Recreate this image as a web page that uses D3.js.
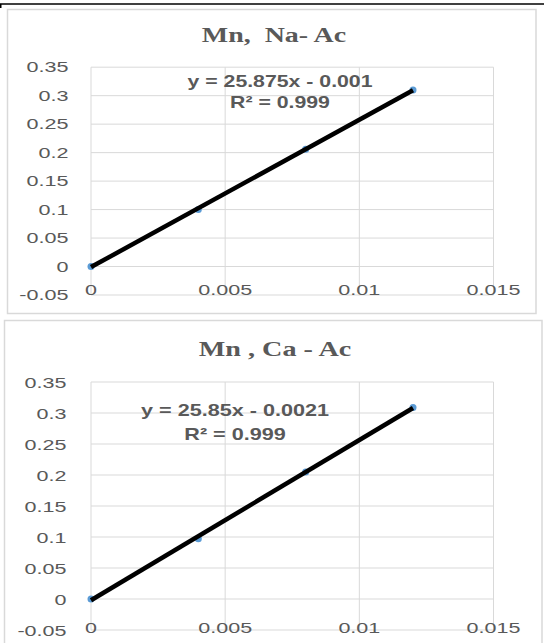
<html>
<head>
<meta charset="utf-8">
<script src="https://d3js.org/d3.v7.min.js"></script>
<style>
  body { margin: 0; background: #fff; }
  text { fill: #595959; }
</style>
</head>
<body>
<svg id="chart" width="544" height="643"></svg>
<script>
// data
var xTicks = [0, 0.005, 0.01, 0.015];
var xLabels = ["0", "0.005", "0.01", "0.015"];
var yTicks = [-0.05, 0, 0.05, 0.1, 0.15, 0.2, 0.25, 0.3, 0.35];
var yLabels = ["-0.05", "0", "0.05", "0.1", "0.15", "0.2", "0.25", "0.3", "0.35"];
var titles = ["Mn,  Na- Ac", "Mn , Ca - Ac"];
var conc = [0, 0.004, 0.008, 0.012];
var absNa = [0, 0.1, 0.206, 0.31];
var absCa = [0, 0.097, 0.205, 0.309];
var slopes = [25.875, 25.85];
var intercepts = [-0.001, -0.0021];
var eqTexts = ["y = 25.875x - 0.001", "y = 25.85x - 0.0021"];
var r2Texts = ["R\u00b2 = 0.999", "R\u00b2 = 0.999"];

// layout of the two stacked excel charts (the picture is stretched sideways)
var layout = [
  { box: [7.5, 9.5, 536, 313.5], x0: 91, x1: 493.5, yTop: 67.2, yBot: 295,
    titleX: 274, titleY: 41.5, titleSize: 21.5, titleSx: 1.3,
    tickSize: 14.5, tickSx: 1.49, yLabRight: 68.5, xLabY: 289.5,
    eqX: 280, eqY: 86.5, eqGap: 21, eqSize: 16, eqSx: 1.33 },
  { box: [4.5, 320.5, 542, 680], x0: 91, x1: 493.5, yTop: 382, yBot: 630,
    titleX: 275, titleY: 355.5, titleSize: 21.5, titleSx: 1.31,
    tickSize: 15.5, tickSx: 1.39, yLabRight: 66.5, xLabY: 627.5,
    eqX: 235, eqY: 415.5, eqGap: 24, eqSize: 17, eqSx: 1.27 }
];
var series = [absNa, absCa];

var svg = d3.select("#chart");

// strip of the page above the charts
svg.append("line").attr("x1", 0).attr("x2", 544).attr("y1", 4).attr("y2", 4)
  .attr("stroke", "#000").attr("stroke-width", 1.5);
svg.append("line").attr("x1", 0.75).attr("x2", 0.75).attr("y1", 4).attr("y2", 8)
  .attr("stroke", "#000").attr("stroke-width", 1.5);

function stretchText(g, x, y, sx, txt) {
  return g.append("text")
    .attr("transform", "translate(" + x + "," + y + ") scale(" + sx + ",1)")
    .text(txt);
}

layout.forEach(function(L, i) {
  var g = svg.append("g");
  var x = d3.scaleLinear().domain([0, 0.015]).range([L.x0, L.x1]);
  var y = d3.scaleLinear().domain([-0.05, 0.35]).range([L.yBot, L.yTop]);

  g.append("rect")
    .attr("x", L.box[0]).attr("y", L.box[1])
    .attr("width", L.box[2] - L.box[0]).attr("height", L.box[3] - L.box[1])
    .attr("fill", "#fff").attr("stroke", "#d9d9d9").attr("stroke-width", 1.5);

  // grid
  g.selectAll(".hg").data(yTicks).enter().append("line")
    .attr("x1", x(0)).attr("x2", x(0.015))
    .attr("y1", function(d) { return y(d); }).attr("y2", function(d) { return y(d); })
    .attr("stroke", "#d9d9d9").attr("stroke-width", 1);
  g.selectAll(".vg").data(xTicks).enter().append("line")
    .attr("y1", y(-0.05)).attr("y2", y(0.35))
    .attr("x1", function(d) { return x(d); }).attr("x2", function(d) { return x(d); })
    .attr("stroke", "#d9d9d9").attr("stroke-width", 1);

  // tick labels
  yTicks.forEach(function(d, k) {
    stretchText(g, L.yLabRight, y(d), L.tickSx, yLabels[k])
      .attr("text-anchor", "end").attr("dy", "0.36em")
      .style("font", L.tickSize + "px 'Liberation Sans', Arial, sans-serif");
  });
  xTicks.forEach(function(d, k) {
    stretchText(g, x(d), L.xLabY, L.tickSx, xLabels[k])
      .attr("text-anchor", "middle").attr("dy", "0.36em")
      .style("font", L.tickSize + "px 'Liberation Sans', Arial, sans-serif");
  });

  // title
  stretchText(g, L.titleX, L.titleY, L.titleSx, titles[i])
    .attr("text-anchor", "middle")
    .style("white-space", "pre")
    .style("font", "bold " + L.titleSize + "px 'Liberation Serif', 'Times New Roman', serif");

  // points
  g.selectAll(".pt").data(conc).enter().append("circle")
    .attr("cx", function(d) { return x(d); })
    .attr("cy", function(d, k) { return y(series[i][k]); })
    .attr("r", 3.5).attr("fill", "#5b9bd5");

  // linear trendline across the data range
  var ext = d3.extent(conc);
  var line = d3.line()
    .x(function(d) { return x(d); })
    .y(function(d) { return y(slopes[i] * d + intercepts[i]); });
  g.append("path").datum(ext).attr("d", line)
    .attr("fill", "none").attr("stroke", "#000").attr("stroke-width", 4.5);

  // equation label
  stretchText(g, L.eqX, L.eqY, L.eqSx, eqTexts[i])
    .attr("text-anchor", "middle")
    .style("font", "bold " + L.eqSize + "px 'Liberation Sans', Arial, sans-serif");
  stretchText(g, L.eqX, L.eqY + L.eqGap, L.eqSx, r2Texts[i])
    .attr("text-anchor", "middle")
    .style("font", "bold " + L.eqSize + "px 'Liberation Sans', Arial, sans-serif");
});
</script>
</body>
</html>
